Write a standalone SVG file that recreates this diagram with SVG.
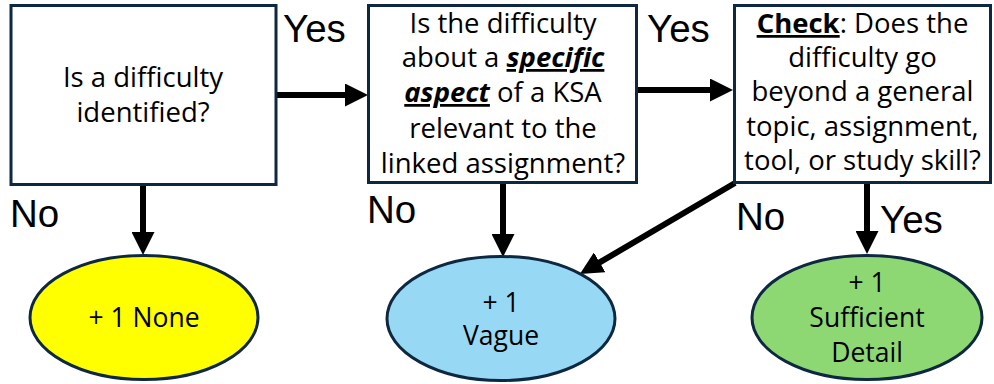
<svg xmlns="http://www.w3.org/2000/svg" width="994" height="384" viewBox="0 0 994 384">
<style>
  .box { fill: #ffffff; stroke: #0e2841; stroke-width: 3; }
  .oval { stroke: #0e2841; stroke-width: 3; }
  .t { font-family: "Open Sans", "Liberation Sans", sans-serif; font-size: 27.5px; fill: #000; text-anchor: middle; }
  .o { font-size: 26.5px; }
  .lbl { font-family: "Liberation Sans", "Open Sans", sans-serif; font-size: 38.5px; fill: #000; }
  .conn { stroke: #000; stroke-width: 6; fill: none; marker-end: url(#ah); }
  .em { font-weight: bold; font-style: italic; text-decoration: underline; }
  .b { font-weight: bold; text-decoration: underline; }
</style>
<defs>
  <marker id="ah" markerUnits="userSpaceOnUse" markerWidth="24" markerHeight="23" viewBox="0 0 24 23" refX="2" refY="11.5" orient="auto">
    <path d="M0,0 L23,11.5 L0,23 z" fill="#000"/>
  </marker>
</defs>

<g id="connectors">
  <line class="conn" x1="277" y1="95" x2="347" y2="95"/>
  <line class="conn" x1="638" y1="90" x2="712" y2="90"/>
  <line class="conn" x1="143" y1="185" x2="143" y2="234"/>
  <line class="conn" x1="503" y1="183" x2="503" y2="236"/>
  <line class="conn" x1="867" y1="183" x2="867" y2="233"/>
  <line class="conn" x1="735" y1="183" x2="598" y2="263.4"/>
</g>

<g id="labels">
  <text class="lbl" x="283" y="42">Yes</text>
  <text class="lbl" x="647" y="42">Yes</text>
  <text class="lbl" x="10" y="227">No</text>
  <text class="lbl" x="367" y="223">No</text>
  <text class="lbl" x="736" y="230">No</text>
  <text class="lbl" x="880" y="233">Yes</text>
</g>

<g id="q1">
  <rect class="box" x="11" y="5.5" width="265" height="179"/>
  <text class="t" x="143" y="87">Is a difficulty</text>
  <text class="t" x="143" y="122">identified?</text>
</g>

<g id="q2">
  <rect class="box" x="368.5" y="5.5" width="268" height="177"/>
  <text class="t" x="503" y="33">Is the difficulty</text>
  <text class="t" x="503" y="67">about a <tspan class="em">specific</tspan></text>
  <text class="t" x="503" y="102"><tspan class="em">aspect</tspan> of a KSA</text>
  <text class="t" x="503" y="138">relevant to the</text>
  <text class="t" x="503" y="173">linked assignment?</text>
</g>

<g id="q3">
  <rect class="box" x="734.5" y="5.5" width="256" height="177"/>
  <text class="t" x="862.5" y="33"><tspan class="b">Check</tspan>: Does the</text>
  <text class="t" x="862.5" y="67">difficulty go</text>
  <text class="t" x="862.5" y="101">beyond a general</text>
  <text class="t" x="862.5" y="136">topic, assignment,</text>
  <text class="t" x="862.5" y="170">tool, or study skill?</text>
</g>

<g id="none">
  <ellipse class="oval" cx="144" cy="317.5" rx="114" ry="62" fill="#ffff00"/>
  <text class="t o" x="144" y="327">+ 1 None</text>
</g>

<g id="vague">
  <ellipse class="oval" cx="501" cy="318.5" rx="114" ry="62" fill="#97d9f5"/>
  <text class="t o" x="501" y="312">+ 1</text>
  <text class="t o" x="501" y="345">Vague</text>
</g>

<g id="sufficient">
  <ellipse class="oval" cx="867" cy="317.5" rx="115" ry="62" fill="#8ed873"/>
  <text class="t o" x="867" y="292">+ 1</text>
  <text class="t o" x="867" y="327">Sufficient</text>
  <text class="t o" x="867" y="362">Detail</text>
</g>
</svg>
